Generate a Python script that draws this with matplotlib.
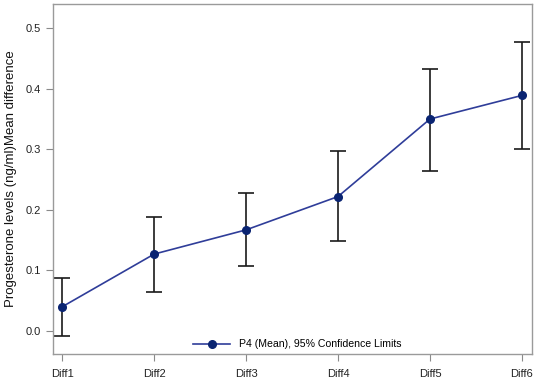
import matplotlib
matplotlib.use("Agg")
import matplotlib.pyplot as plt

categories = ["Diff1", "Diff2", "Diff3", "Diff4", "Diff5", "Diff6"]
means = [0.040, 0.127, 0.167, 0.222, 0.350, 0.389]
upper = [0.088, 0.188, 0.228, 0.298, 0.432, 0.478]
lower = [-0.009, 0.065, 0.107, 0.148, 0.265, 0.301]
yticks = [0.0, 0.1, 0.2, 0.3, 0.4, 0.5]

plt.rcParams['font.family'] = ['Liberation Sans', 'DejaVu Sans']
fig = plt.figure(figsize=(5.36, 3.8), dpi=100)
ax = fig.add_axes([53/536, 26/380, 479/536, 350/380])

x = list(range(1, len(categories) + 1))
yerr = [[m - l for m, l in zip(means, lower)], [u - m for u, m in zip(upper, means)]]
ax.errorbar(x, means, yerr=yerr, fmt='none', ecolor='#1a1a1a', elinewidth=1.2,
            capsize=6, capthick=1.2, zorder=2)
ax.plot(x, means, color='#2f3d99', lw=1.2, marker='o', markersize=5.5,
        markerfacecolor='#0a2472', markeredgecolor='#0a2472', zorder=3,
        label='P4 (Mean), 95% Confidence Limits')

ax.set_xlim(0.90, 6.11)
ax.set_ylim(-0.038, 0.540)
ax.set_xticks(x)
ax.set_xticklabels(categories)
ax.set_yticks(yticks)
ax.set_yticklabels([f"{v:.1f}" for v in yticks])
ax.tick_params(direction='out', length=5, color='#8a8a8a', labelsize=8, labelcolor='#222222')
ax.tick_params(axis='x', pad=6)
for s in ax.spines.values():
    s.set_color('#9a9a9a')
    s.set_linewidth(1.0)
ax.set_ylabel("Progesterone levels (ng/ml)Mean difference", fontsize=9.5, color='#111111', labelpad=6)

leg = ax.legend(loc='lower center', bbox_to_anchor=(0.51, -0.005), frameon=False,
                fontsize=7.6, handlelength=3.5, borderaxespad=0.2)

fig.savefig("out.png", dpi=100)
